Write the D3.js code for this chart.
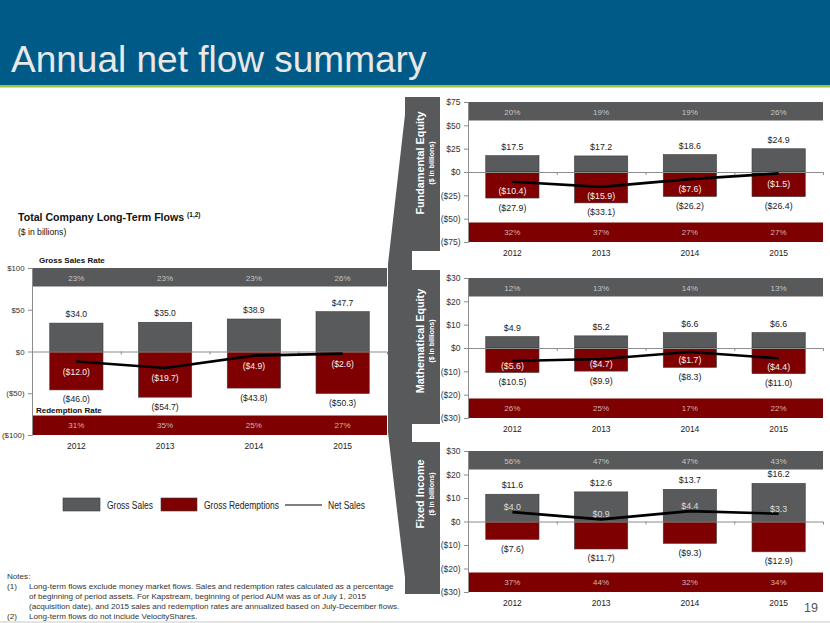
<!DOCTYPE html>
<html>
<head>
<meta charset="utf-8">
<script src="https://cdn.jsdelivr.net/npm/d3@7"></script>
<style>
  body { margin: 0; background: #fff; }
  svg { display: block; font-family: "Liberation Sans", Arial, sans-serif; }
</style>
</head>
<body>
<svg id="slide" width="830" height="623"></svg>
<script>
const years = ['2012', '2013', '2014', '2015'];

// Total company long-term flows ($ in billions)
const totalSales = [34.0, 35.0, 38.9, 47.7];
const totalRedemptions = [-46.0, -54.7, -43.8, -50.3];
const totalNet = [-12.0, -19.7, -4.9, -2.6];
const totalSalesRate = ['23%', '23%', '23%', '26%'];
const totalRedemptionRate = ['31%', '35%', '25%', '27%'];
const totalTicks = [100, 50, 0, -50, -100];

// Fundamental equity
const fundSales = [17.5, 17.2, 18.6, 24.9];
const fundRedemptions = [-27.9, -33.1, -26.2, -26.4];
const fundNet = [-10.4, -15.9, -7.6, -1.5];
const fundSalesRate = ['20%', '19%', '19%', '26%'];
const fundRedemptionRate = ['32%', '37%', '27%', '27%'];
const fundTicks = [75, 50, 25, 0, -25, -50, -75];

// Mathematical equity
const mathSales = [4.9, 5.2, 6.6, 6.6];
const mathRedemptions = [-10.5, -9.9, -8.3, -11.0];
const mathNet = [-5.6, -4.7, -1.7, -4.4];
const mathSalesRate = ['12%', '13%', '14%', '13%'];
const mathRedemptionRate = ['26%', '25%', '17%', '22%'];
const mathTicks = [30, 20, 10, 0, -10, -20, -30];

// Fixed income
const fixedSales = [11.6, 12.6, 13.7, 16.2];
const fixedRedemptions = [-7.6, -11.7, -9.3, -12.9];
const fixedNet = [4.0, 0.9, 4.4, 3.3];
const fixedSalesRate = ['56%', '47%', '47%', '43%'];
const fixedRedemptionRate = ['37%', '44%', '32%', '34%'];
const fixedTicks = [30, 20, 10, 0, -10, -20, -30];

const GREY = '#58595b';
const RED = '#7f0000';
const BLUE = '#005a87';

const svg = d3.select('#slide');

const fmtMoney = v => v < 0 ? `($${d3.format('.1f')(-v)})` : `$${d3.format('.1f')(v)}`;
const fmtTick = v => v < 0 ? `($${-v})` : `$${v}`;

// title bar
svg.append('rect').attr('x', 0).attr('y', 0).attr('width', 830).attr('height', 85).attr('fill', BLUE);
svg.append('rect').attr('x', 0).attr('y', 85).attr('width', 830).attr('height', 2.5).attr('fill', '#a3c13b');
svg.append('text')
  .attr('x', 11).attr('y', 72)
  .attr('font-size', 37)
  .attr('fill', '#e8e8e8')
  .text('Annual net flow summary');

// the grey brace joining the total chart to the three asset class charts
const brace = svg.append('g');
brace.append('path')
  .attr('d', 'M407,97 L412,97 L412,594 L407,594 Q398,520 388,432 L388,264 Q397,185 407,97 Z')
  .attr('fill', GREY);
const tabs = [
  { y0: 97, y1: 251, mid: 163, name: 'Fundamental Equity' },
  { y0: 270, y1: 424, mid: 341, name: 'Mathematical Equity' },
  { y0: 442, y1: 594, mid: 494, name: 'Fixed Income' },
];
tabs.forEach((t) => {
  brace.append('rect')
    .attr('x', 405).attr('y', t.y0)
    .attr('width', 35).attr('height', t.y1 - t.y0)
    .attr('fill', GREY);
  brace.append('text')
    .attr('transform', `translate(424,${t.mid}) rotate(-90)`)
    .attr('text-anchor', 'middle')
    .attr('font-size', 10.8).attr('font-weight', 'bold')
    .attr('fill', '#fff')
    .text(t.name);
  brace.append('text')
    .attr('transform', `translate(434,${t.mid}) rotate(-90)`)
    .attr('text-anchor', 'middle')
    .attr('font-size', 7).attr('font-weight', 'bold')
    .attr('fill', '#fff')
    .text('($ in billions)');
});

function drawPanel(p) {
  const g = svg.append('g');
  const x = d3.scaleBand().domain(years).range([p.x0, p.x1]).paddingInner(0.4).paddingOuter(0.2);
  const y = d3.scaleLinear().domain([-p.max, p.max]).range([p.yBot, p.yTop]);
  const edge = d3.scaleLinear().domain([0, years.length]).range([p.x0, p.x1]);
  const cx = d => x(d) + x.bandwidth() / 2;

  // rate bands
  g.append('rect').attr('x', p.x0).attr('y', p.yTop)
    .attr('width', p.x1 - p.x0).attr('height', 18.5).attr('fill', GREY);
  g.append('rect').attr('x', p.x0).attr('y', p.yBot - 19.5)
    .attr('width', p.x1 - p.x0).attr('height', 19.5).attr('fill', RED);
  g.selectAll('.sr').data(years).enter().append('text')
    .attr('x', cx).attr('y', p.yTop + 12.5)
    .attr('text-anchor', 'middle').attr('font-size', 8).attr('fill', '#c4c4c4')
    .text((d, i) => p.salesRate[i]);
  g.selectAll('.rr').data(years).enter().append('text')
    .attr('x', cx).attr('y', p.yBot - 7)
    .attr('text-anchor', 'middle').attr('font-size', 8).attr('fill', '#d2b4b4')
    .text((d, i) => p.redRate[i]);

  // bars
  g.selectAll('.sales').data(years).enter().append('rect')
    .attr('x', d => x(d)).attr('width', x.bandwidth())
    .attr('y', (d, i) => y(p.sales[i]))
    .attr('height', (d, i) => y(0) - y(p.sales[i]))
    .attr('fill', '#595a5c').attr('stroke', '#3a3a3a').attr('stroke-width', 0.6);
  g.selectAll('.red').data(years).enter().append('rect')
    .attr('x', d => x(d)).attr('width', x.bandwidth())
    .attr('y', y(0))
    .attr('height', (d, i) => y(p.red[i]) - y(0))
    .attr('fill', RED).attr('stroke', '#3a3a3a').attr('stroke-width', 0.6);

  // axes
  const yAxis = g.append('g')
    .attr('transform', `translate(${p.x0},0)`)
    .call(d3.axisLeft(y).tickValues(p.ticks).tickSize(4).tickPadding(3.5).tickFormat(fmtTick));
  yAxis.select('.domain').attr('stroke', '#8c8c8c');
  yAxis.selectAll('line').attr('stroke', '#8c8c8c');
  yAxis.selectAll('text').attr('font-size', p.tickFont).attr('fill', '#333')
    .attr('font-family', '"Liberation Sans", Arial, sans-serif');

  const zeroAxis = g.append('g')
    .attr('transform', `translate(0,${y(0)})`)
    .call(d3.axisBottom(edge).tickValues([1, 2, 3]).tickSize(3).tickFormat(''));
  zeroAxis.select('.domain').attr('stroke', '#8c8c8c');
  zeroAxis.selectAll('line').attr('stroke', '#8c8c8c');

  const xAxis = g.append('g')
    .attr('transform', `translate(0,${p.yBot})`)
    .call(d3.axisBottom(x).tickSize(0).tickPadding(8));
  xAxis.select('.domain').remove();
  xAxis.selectAll('text').attr('font-size', 8.5).attr('fill', '#222')
    .attr('font-family', '"Liberation Sans", Arial, sans-serif');

  // net line
  g.append('path')
    .datum(years)
    .attr('d', d3.line().x(cx).y((d, i) => y(p.net[i])))
    .attr('fill', 'none').attr('stroke', '#000').attr('stroke-width', 2.6);

  // labels
  g.selectAll('.sl').data(years).enter().append('text')
    .attr('x', cx).attr('y', (d, i) => y(p.sales[i]) - 6)
    .attr('text-anchor', 'middle').attr('font-size', p.valueFont).attr('fill', '#222')
    .text((d, i) => fmtMoney(p.sales[i]));
  g.selectAll('.rl').data(years).enter().append('text')
    .attr('x', cx).attr('y', (d, i) => y(p.red[i]) + 12.5)
    .attr('text-anchor', 'middle').attr('font-size', p.valueFont).attr('fill', '#222')
    .text((d, i) => fmtMoney(p.red[i]));
  g.selectAll('.nl').data(years).enter().append('text')
    .attr('x', cx)
    .attr('y', (d, i) => {
      const v = p.net[i];
      const c = v < 0
        ? Math.min(Math.max(y(v) + 10, y(0) + 12), y(p.red[i]) - 7)
        : Math.min(y(v) - 5, y(0) - 8);
      return c + 3;
    })
    .attr('text-anchor', 'middle').attr('font-size', p.valueFont)
    .attr('fill', (d, i) => (p.net[i] < 0 ? '#f2f2f2' : '#dcdcdc'))
    .text((d, i) => fmtMoney(p.net[i]));
  return g;
}

drawPanel({
  x0: 32, x1: 387, yTop: 268, yBot: 435, max: 100, ticks: totalTicks, tickFont: 7.8, valueFont: 8.6,
  sales: totalSales, red: totalRedemptions, net: totalNet,
  salesRate: totalSalesRate, redRate: totalRedemptionRate,
});
drawPanel({
  x0: 468, x1: 823, yTop: 102, yBot: 242, max: 75, ticks: fundTicks, tickFont: 8.5, valueFont: 8.8,
  sales: fundSales, red: fundRedemptions, net: fundNet,
  salesRate: fundSalesRate, redRate: fundRedemptionRate,
});
drawPanel({
  x0: 468, x1: 823, yTop: 278, yBot: 418, max: 30, ticks: mathTicks, tickFont: 8.5, valueFont: 8.8,
  sales: mathSales, red: mathRedemptions, net: mathNet,
  salesRate: mathSalesRate, redRate: mathRedemptionRate,
});
drawPanel({
  x0: 468, x1: 823, yTop: 451, yBot: 592, max: 30, ticks: fixedTicks, tickFont: 8.5, valueFont: 8.8,
  sales: fixedSales, red: fixedRedemptions, net: fixedNet,
  salesRate: fixedSalesRate, redRate: fixedRedemptionRate,
});

// left chart headings
const head = svg.append('text').attr('x', 18).attr('y', 221)
  .attr('font-size', 10.6).attr('font-weight', 'bold').attr('fill', '#111');
head.append('tspan').text('Total Company Long-Term Flows ');
head.append('tspan').attr('font-size', 6.5).attr('dy', -4).text('(1,2)');
svg.append('text').attr('x', 18).attr('y', 235)
  .attr('font-size', 8.6).attr('fill', '#111').text('($ in billions)');
svg.append('text').attr('x', 39).attr('y', 263)
  .attr('font-size', 8).attr('font-weight', 'bold').attr('fill', '#111').text('Gross Sales Rate');
svg.append('text').attr('x', 36).attr('y', 413)
  .attr('font-size', 8).attr('font-weight', 'bold').attr('fill', '#111').text('Redemption Rate');

// legend
const legend = svg.append('g').attr('font-size', 10).attr('fill', '#222');
legend.append('rect').attr('x', 63).attr('y', 498).attr('width', 37).attr('height', 13)
  .attr('fill', '#595a5c').attr('stroke', '#3a3a3a').attr('stroke-width', 0.6);
legend.append('text').attr('x', 107).attr('y', 509).attr('textLength', 46)
  .attr('lengthAdjust', 'spacingAndGlyphs').text('Gross Sales');
legend.append('rect').attr('x', 161).attr('y', 498).attr('width', 36).attr('height', 13)
  .attr('fill', RED).attr('stroke', '#3a3a3a').attr('stroke-width', 0.6);
legend.append('text').attr('x', 204).attr('y', 509).attr('textLength', 75)
  .attr('lengthAdjust', 'spacingAndGlyphs').text('Gross Redemptions');
legend.append('line').attr('x1', 285).attr('x2', 322).attr('y1', 505).attr('y2', 505)
  .attr('stroke', '#000').attr('stroke-width', 1);
legend.append('text').attr('x', 328).attr('y', 509).attr('textLength', 37)
  .attr('lengthAdjust', 'spacingAndGlyphs').text('Net Sales');

// notes
const notes = svg.append('g').attr('font-size', 8.1).attr('fill', '#333');
notes.append('text').attr('x', 7).attr('y', 579).text('Notes:');
notes.append('text').attr('x', 7).attr('y', 589).text('(1)');
notes.append('text').attr('x', 29).attr('y', 589)
  .text('Long-term flows exclude money market flows. Sales and redemption rates calculated as a percentage');
notes.append('text').attr('x', 29).attr('y', 599)
  .text('of beginning of period assets. For Kapstream, beginning of period AUM was as of July 1, 2015');
notes.append('text').attr('x', 29).attr('y', 609)
  .text('(acquisition date), and 2015 sales and redemption rates are annualized based on July-December flows.');
notes.append('text').attr('x', 7).attr('y', 619).text('(2)');
notes.append('text').attr('x', 29).attr('y', 619).text('Long-term flows do not include VelocityShares.');

svg.append('text').attr('x', 804).attr('y', 612).attr('font-size', 12.5).attr('fill', '#555').text('19');
svg.append('rect').attr('x', 0).attr('y', 621).attr('width', 830).attr('height', 2).attr('fill', '#e4e4e4');
</script>
</body>
</html>
